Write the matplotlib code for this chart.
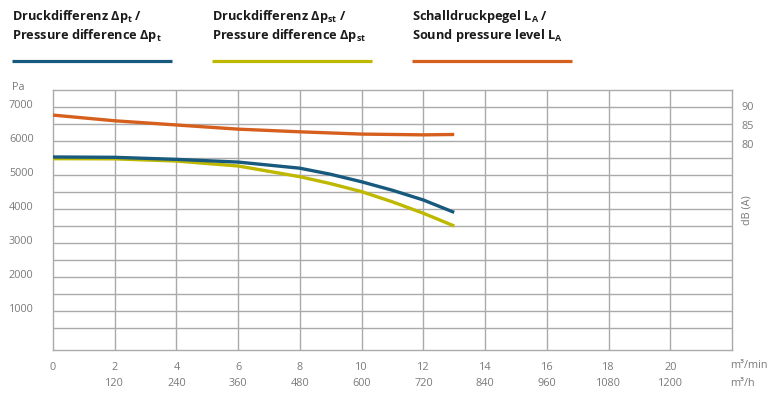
import matplotlib
matplotlib.use("Agg")
import matplotlib.pyplot as plt
from matplotlib.lines import Line2D
from matplotlib.transforms import ScaledTranslation

plt.rcParams['font.family'] = ['Open Sans', 'DejaVu Sans']
plt.rcParams['mathtext.fontset'] = 'custom'
plt.rcParams['mathtext.rm'] = 'Open Sans'
plt.rcParams['mathtext.bf'] = 'Open Sans:bold'

# flow in m3/min
flow = [0, 2, 4, 6, 8, 9, 10, 11, 12, 13]
dp_total = [5530, 5520, 5460, 5380, 5200, 5020, 4800, 4550, 4265, 3900]
dp_static = [5480, 5475, 5410, 5265, 4950, 4745, 4510, 4210, 3875, 3500]
flow_sound = [0, 2, 4, 6, 8, 10, 12, 13]
sound_level = [87.6, 86.1, 85.0, 83.9, 83.2, 82.6, 82.4, 82.5]

x_ticks = [0, 2, 4, 6, 8, 10, 12, 14, 16, 18, 20]
x_ticks_h = [120, 240, 360, 480, 600, 720, 840, 960, 1080, 1200]
y_ticks = [1000, 2000, 3000, 4000, 5000, 6000, 7000]
db_ticks = [80, 85, 90]

c_total = "#175a7d"
c_static = "#bfb800"
c_sound = "#d65f1e"
grid_c = "#aaaaaa"
tick_c = "#7a7a7a"

W, H = 782, 400
fig = plt.figure(figsize=(W / 100, H / 100), dpi=100)
ax = fig.add_axes([53 / W, 50 / H, (732 - 53) / W, (350 - 90) / H])

ax.plot(flow, dp_total, color=c_total, lw=2.4, solid_capstyle='butt', zorder=4)
ax.plot(flow, dp_static, color=c_static, lw=2.4, solid_capstyle='butt', zorder=3)

ax.set_xlim(0, 22)
ax.set_ylim(-147, 7500)

# grid
for gx in range(2, 22, 2):
    ax.axvline(gx, color=grid_c, lw=1, zorder=1)
for gy in range(500, 7500, 500):
    ax.axhline(gy, color=grid_c, lw=1, zorder=1)
for s in ax.spines.values():
    s.set_color(grid_c)
    s.set_linewidth(1)

ax.set_xticks(x_ticks)
ax.set_xticklabels([str(v) for v in x_ticks])
ax.set_yticks(y_ticks)
ax.set_yticklabels([str(v) for v in y_ticks])
ax.tick_params(axis='both', length=0, labelsize=7.8, labelcolor=tick_c)
ax.tick_params(axis='x', pad=9)
ax.tick_params(axis='y', pad=14)
for lab in ax.get_yticklabels():
    lab.set_transform(lab.get_transform() + ScaledTranslation(0, 3 / 100, fig.dpi_scale_trans))

# second row of x labels (m3/h) and units
xt = ax.get_xaxis_transform()
for fx, fh in zip(x_ticks[1:], x_ticks_h):
    ax.text(fx, -34 / 260, str(fh), transform=xt, ha='center', va='center',
            fontsize=7.8, color=tick_c)
ax.text(0.997, -15 / 260, "m³/min", transform=ax.transAxes, ha='left', va='center',
        fontsize=7.8, color=tick_c)
ax.text(0.997, -34 / 260, "m³/h", transform=ax.transAxes, ha='left', va='center',
        fontsize=7.8, color=tick_c)
fig.text(12 / W, 1 - 87 / H, "Pa", ha='left', va='center', fontsize=7.8, color=tick_c)

# sound level on right axis
ax2 = ax.twinx()
ax2.plot(flow_sound, sound_level, color=c_sound, lw=2.4, solid_capstyle='butt', zorder=3)
ax2.set_ylim(25.8, 94.2)
ax2.set_yticks(db_ticks)
ax2.set_yticklabels([str(v) for v in db_ticks])
ax2.tick_params(axis='y', length=0, labelsize=7.8, labelcolor=tick_c, pad=7)
for s in ax2.spines.values():
    s.set_visible(False)
fig.text(747 / W, 1 - 210 / H, "dB (A)", rotation=90, ha='center', va='center',
         fontsize=7.8, color=tick_c)

# legend headers
legend = [
    (12, "Druckdifferenz Δ$\\mathbf{p_t}$ /", "Pressure difference Δ$\\mathbf{p_t}$", c_total),
    (212, "Druckdifferenz Δ$\\mathbf{p_{st}}$ /", "Pressure difference Δ$\\mathbf{p_{st}}$", c_static),
    (412, "Schalldruckpegel $\\mathbf{L_A}$ /", "Sound pressure level $\\mathbf{L_A}$", c_sound),
]
for lx, l1, l2, col in legend:
    fig.text(lx / W, 1 - 20 / H, l1, ha='left', va='baseline', fontsize=9.2,
             fontweight='bold', color='#1a1a1a')
    fig.text(lx / W, 1 - 39 / H, l2, ha='left', va='baseline', fontsize=9.2,
             fontweight='bold', color='#1a1a1a')
    fig.add_artist(Line2D([lx / W, (lx + 160) / W], [1 - 61 / H, 1 - 61 / H],
                          color=col, lw=2.3, solid_capstyle='butt'))

fig.savefig("out.png", dpi=100)
